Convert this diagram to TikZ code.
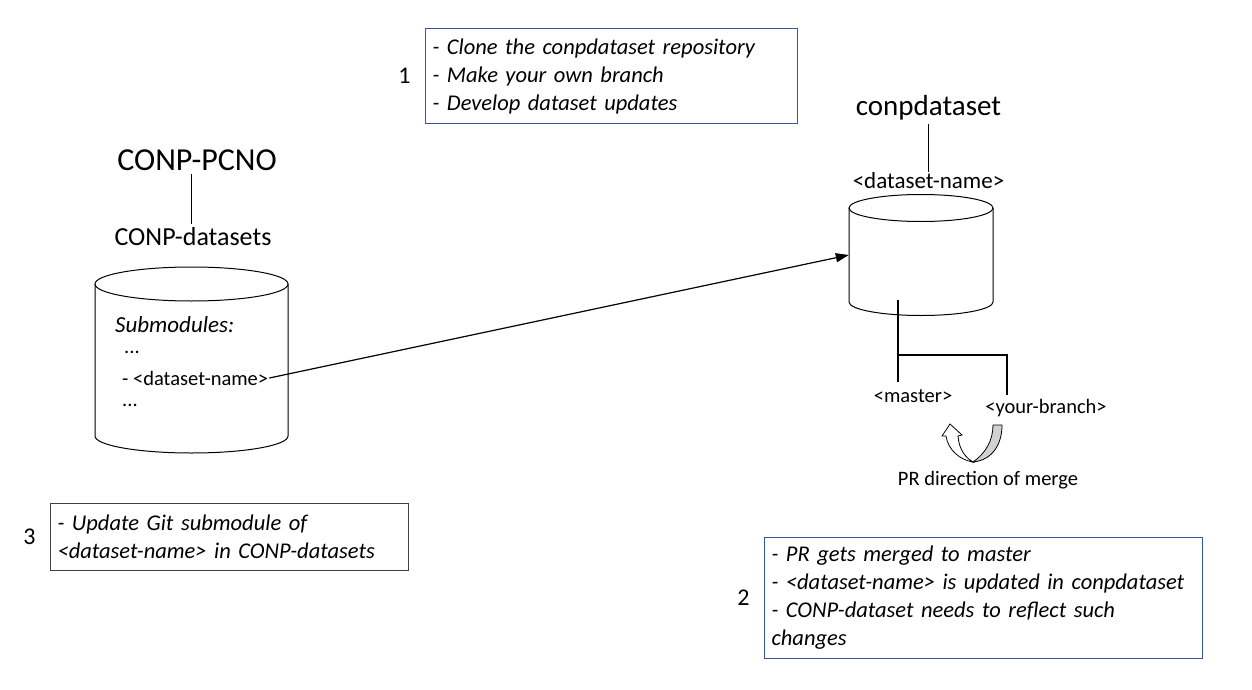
\documentclass[tikz,border=0pt]{standalone}
\usepackage{fontspec}
\setmainfont{Carlito}
\usetikzlibrary{positioning,arrows.meta}
\definecolor{boxblue}{RGB}{52,88,165}
\definecolor{boxgray}{RGB}{64,64,64}
\definecolor{pullgray}{RGB}{210,210,210}

\begin{document}
\begin{tikzpicture}[x=1pt,y=-1pt]
    \tikzset{
      BodyStyle/.style = { inner sep=1pt, font=\fontsize{20.5}{25}\selectfont },
      TitleStyle/.style = { font=\fontsize{32}{36}\selectfont },
      NumStyle/.style = { font=\fontsize{24}{28}\selectfont },
      BoxStyle/.style = { draw=boxblue, line width=1.1pt, anchor=north west,
                          align=left, inner xsep=7pt, inner ysep=0pt,
                          font=\fontsize{22.5}{28}\selectfont\itshape },
      DbStyle/.style = { line width=1pt },
      HolderStyle/.style = { inner sep=0pt },
      BranchStyle/.style = { line width=2.3pt } }
      \useasboundingbox (0,0) rectangle (1252,690);

      % left repository
      \node[TitleStyle] (pcno) at (197,160) {CONP-PCNO};
      \node[font=\fontsize{26}{30}\selectfont] (datasets) at (193,237) {CONP-datasets};
      \draw[line width=1pt] ([xshift=-6pt]pcno.south) -- ([xshift=-6pt]pcno.south |- datasets.north);
      \node[HolderStyle, minimum width=193, minimum height=188] (dbleft) at (191.5,360) {};
      \draw[DbStyle] (95,284) -- (95,436) arc[start angle=180, end angle=0, x radius=96.5, y radius=17] -- (288,284);
      \draw[DbStyle] (191.5,284) ellipse[x radius=96.5, y radius=17];
      \node[BodyStyle, anchor=west, font=\fontsize{23}{27}\selectfont\itshape] (submods) at (114,325) {Submodules:};
      \node[BodyStyle, anchor=west] (dots1) at (123,352) {...};
      \node[BodyStyle, anchor=west] (subitem) at (121,378) {- <dataset-name>};
      \node[BodyStyle, anchor=west] (dots2) at (121,405) {...};

      % right repository
      \node[font=\fontsize{29}{33}\selectfont] (conp) at (928.5,108) {conpdataset};
      \node[BodyStyle, font=\fontsize{23}{27}\selectfont] (dsname) at (928.5,181) {<dataset-name>};
      \draw[line width=1pt] (conp.south) -- (dsname.north);
      \node[HolderStyle, minimum width=144, minimum height=120] (dbright) at (921,255) {};
      \draw[DbStyle] (849,208) -- (849,302) arc[start angle=180, end angle=0, x radius=72, y radius=13.5] -- (993,208);
      \draw[DbStyle] (921,208) ellipse[x radius=72, y radius=13.5];

      \draw[line width=1.2pt, -{Triangle[length=13pt,width=9pt]}] (subitem.east) -- (dbright.west);

      % branches
      \coordinate (root) at (898,300);
      \coordinate (fork) at (898,355);
      \coordinate (mend) at (898,382);
      \coordinate (bcorner) at (1007,355);
      \coordinate (bend) at (1007,395);
      \draw[BranchStyle] (root) -- (fork) -- (mend);
      \draw[BranchStyle] (fork) -- (bcorner) -- (bend);
      \node[BodyStyle] (master) at (913,396) {<master>};
      \node[BodyStyle] (yourbranch) at (1046,408) {<your-branch>};

      % merge direction
      \draw[line width=0.8pt, fill=pullgray] (993,425) -- (1002,425)
        .. controls (1002,445) and (992,460) .. (973,462)
        .. controls (986,453) and (993,440) .. (993,425) -- cycle;
      \draw[line width=0.8pt, fill=white] (973,462)
        .. controls (960,460) and (948,450) .. (946,436) -- (942,436) -- (950,424)
        -- (962,435) -- (958,436) .. controls (959,450) and (966,458) .. (973,462) -- cycle;
      \node[BodyStyle] (prdir) at (988,480) {PR direction of merge};

      % steps
      \node[BoxStyle, text width=358, minimum height=95] (step1) at (425,28)
        {- Clone the conpdataset repository\\- Make your own branch\\- Develop dataset updates};
      \node[NumStyle, left=11pt of step1] (num1) {1};
      \node[BoxStyle, text width=424, minimum height=121] (step2) at (764,537)
        {- PR gets merged to master\\- <dataset-name> is updated in conpdataset\\- CONP-dataset needs to reflect such\\changes};
      \node[NumStyle, left=11pt of step2] (num2) {2};
      \node[BoxStyle, draw=boxgray, text width=344, minimum height=67] (step3) at (50,503)
        {- Update Git submodule of\\<dataset-name> in CONP-datasets};
      \node[NumStyle, left=11pt of step3] (num3) {3};
\end{tikzpicture}
\end{document}
